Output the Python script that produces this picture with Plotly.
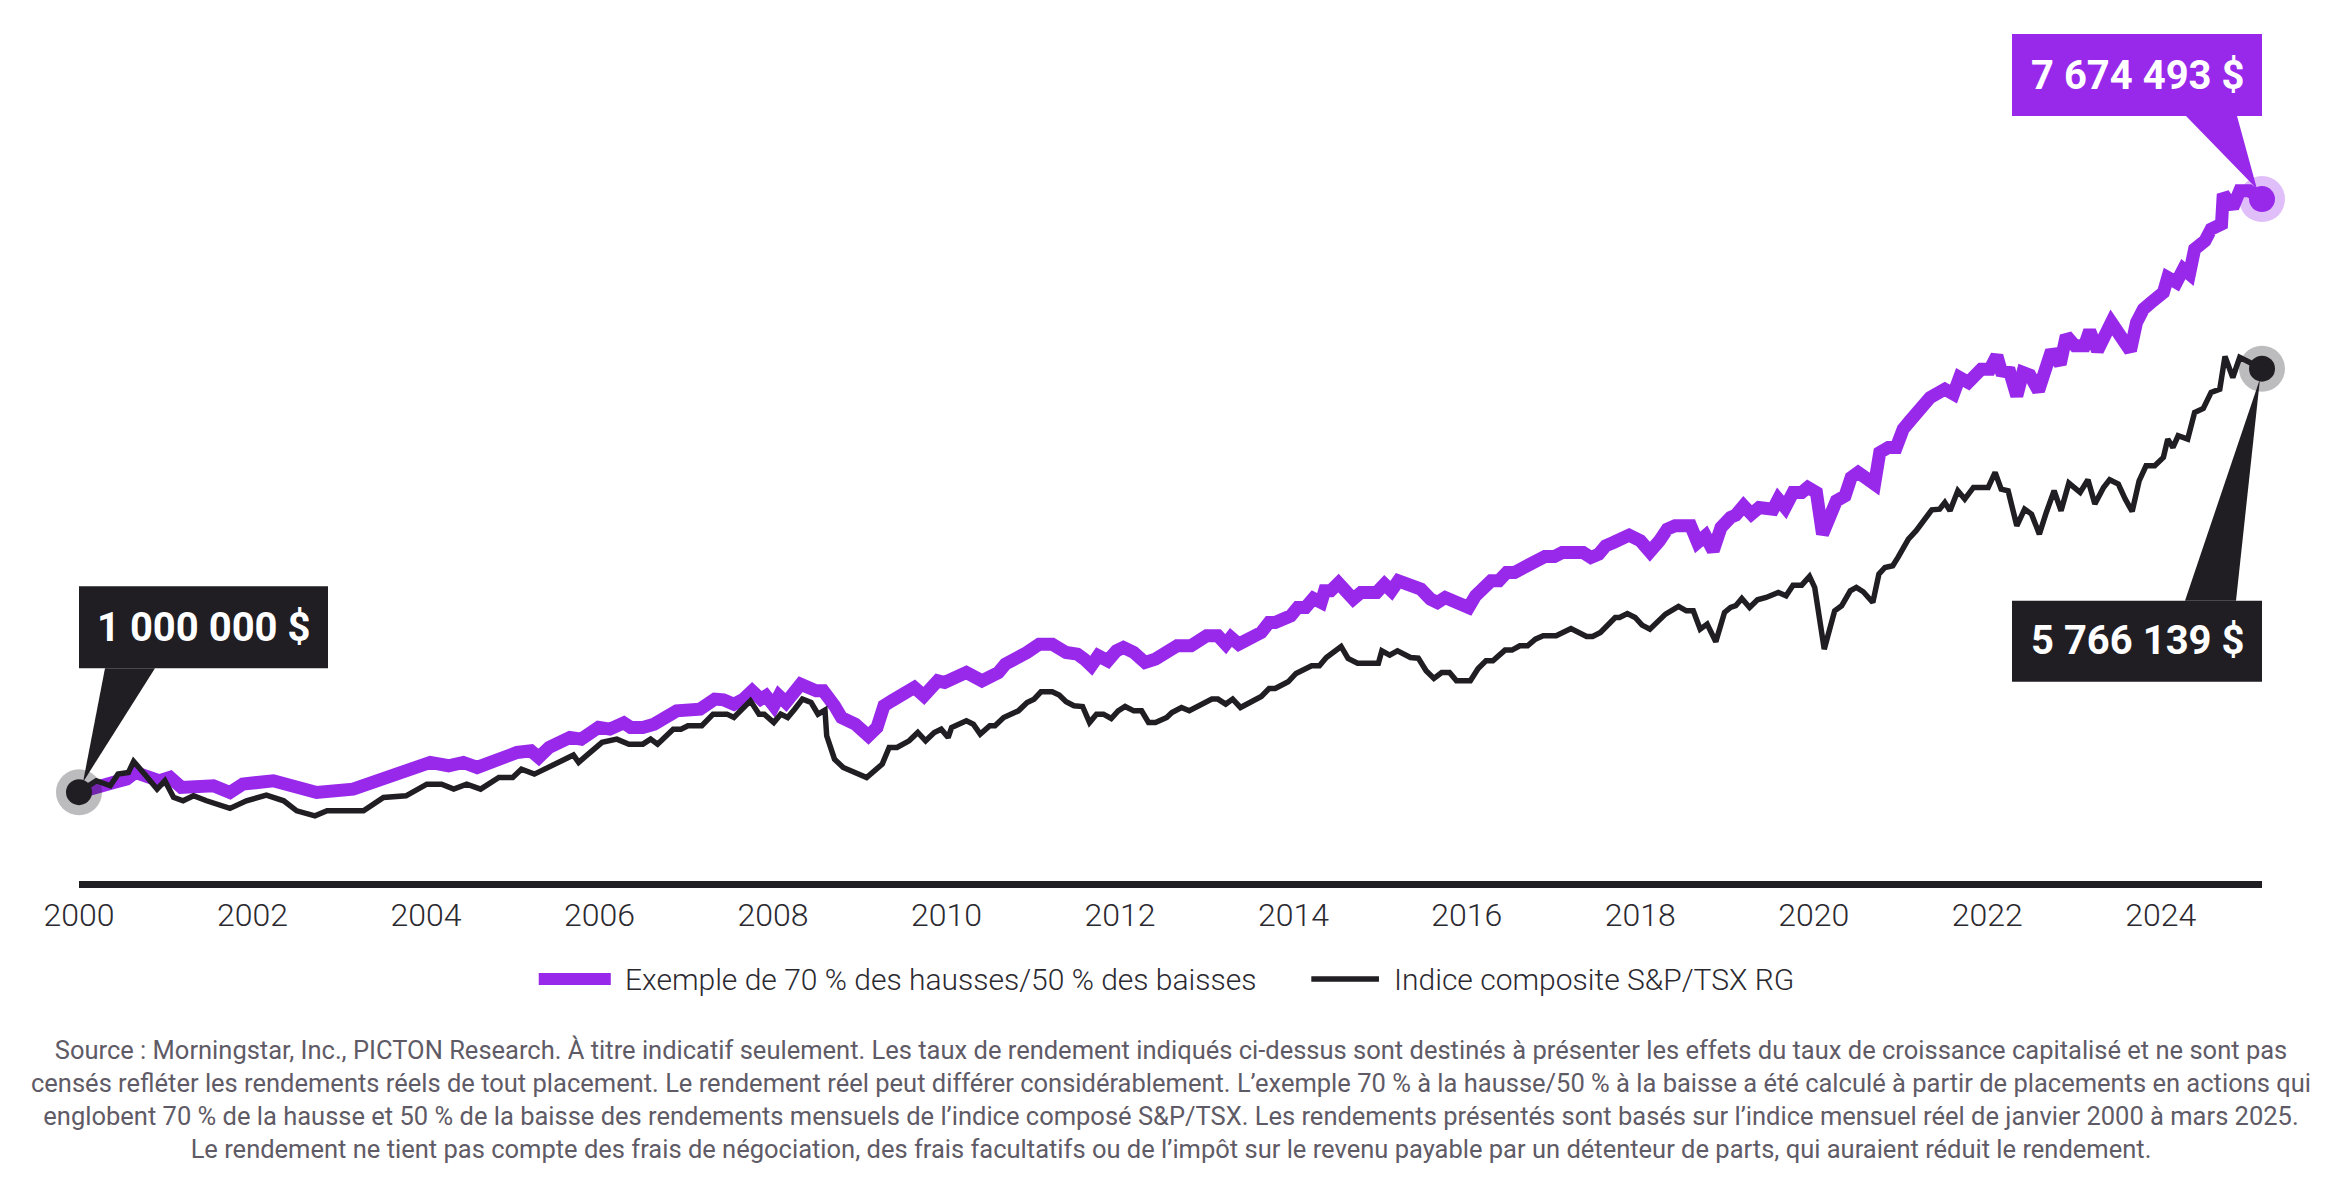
import plotly.graph_objects as go

# ---------------- data (values in millions of $) ----------------
purple_year = [2000.00, 2000.10, 2000.40, 2000.55, 2000.65, 2000.93, 2001.05, 2001.18, 2001.55, 2001.74,
               2001.89, 2002.24, 2002.47, 2002.74, 2003.16, 2003.40, 2003.62, 2003.81, 2004.05, 2004.26,
               2004.43, 2004.59, 2004.80, 2005.05, 2005.21, 2005.30, 2005.42, 2005.66, 2005.79, 2005.99,
               2006.12, 2006.28, 2006.36, 2006.50, 2006.63, 2006.89, 2007.16, 2007.33, 2007.43, 2007.55,
               2007.66, 2007.76, 2007.86, 2007.92, 2008.01, 2008.07, 2008.15, 2008.32, 2008.50, 2008.58,
               2008.71, 2008.79, 2008.95, 2009.10, 2009.20, 2009.28, 2009.37, 2009.49, 2009.63, 2009.74,
               2009.90, 2009.98, 2010.23, 2010.41, 2010.60, 2010.68, 2010.81, 2010.93, 2011.07, 2011.22,
               2011.38, 2011.51, 2011.59, 2011.67, 2011.75, 2011.86, 2011.96, 2012.04, 2012.16, 2012.29,
               2012.41, 2012.58, 2012.66, 2012.82, 2013.00, 2013.13, 2013.22, 2013.28, 2013.37, 2013.63,
               2013.72, 2013.79, 2013.97, 2014.05, 2014.14, 2014.23, 2014.32, 2014.36, 2014.43, 2014.52,
               2014.60, 2014.69, 2014.78, 2014.96, 2015.05, 2015.13, 2015.21, 2015.40, 2015.47, 2015.58,
               2015.66, 2015.75, 2015.97, 2016.02, 2016.10, 2016.19, 2016.28, 2016.37, 2016.46, 2016.55,
               2016.63, 2016.72, 2016.81, 2016.90, 2017.01, 2017.10, 2017.34, 2017.43, 2017.52, 2017.60,
               2017.69, 2017.87, 2018.00, 2018.11, 2018.22, 2018.31, 2018.40, 2018.58, 2018.66, 2018.75,
               2018.84, 2018.93, 2019.04, 2019.10, 2019.19, 2019.28, 2019.37, 2019.53, 2019.59, 2019.67,
               2019.76, 2019.86, 2019.93, 2020.03, 2020.10, 2020.18, 2020.26, 2020.36, 2020.43, 2020.51,
               2020.70, 2020.76, 2020.86, 2020.95, 2021.03, 2021.11, 2021.20, 2021.34, 2021.51, 2021.61,
               2021.68, 2021.78, 2021.93, 2022.03, 2022.11, 2022.16, 2022.26, 2022.34, 2022.41, 2022.49,
               2022.59, 2022.68, 2022.74, 2022.84, 2022.91, 2023.01, 2023.12, 2023.18, 2023.27, 2023.43,
               2023.57, 2023.65, 2023.72, 2023.80, 2023.89, 2024.03, 2024.08, 2024.18, 2024.26, 2024.33,
               2024.39, 2024.51, 2024.58, 2024.70, 2024.72, 2024.83, 2024.91, 2025.02, 2025.1667]
purple_value = [1.000, 1.034, 1.110, 1.147, 1.222, 1.128, 1.166, 1.053, 1.072, 0.997,
                1.091, 1.128, 1.072, 0.997, 1.034, 1.110, 1.184, 1.222, 1.335, 1.297,
                1.335, 1.278, 1.372, 1.447, 1.466, 1.391, 1.504, 1.616, 1.597, 1.729,
                1.710, 1.780, 1.728, 1.728, 1.765, 1.915, 1.934, 2.047, 2.039, 1.990,
                2.047, 2.140, 2.047, 2.084, 1.972, 2.084, 2.009, 2.215, 2.140, 2.140,
                1.972, 1.840, 1.765, 1.634, 1.728, 1.972, 2.028, 2.084, 2.178, 2.084,
                2.253, 2.234, 2.347, 2.253, 2.347, 2.441, 2.497, 2.572, 2.666, 2.666,
                2.572, 2.553, 2.497, 2.422, 2.535, 2.478, 2.591, 2.628, 2.572, 2.459,
                2.497, 2.572, 2.647, 2.647, 2.760, 2.760, 2.666, 2.741, 2.666, 2.797,
                2.910, 2.910, 2.985, 3.079, 3.079, 3.180, 3.135, 3.266, 3.266, 3.353,
                3.248, 3.173, 3.248, 3.248, 3.341, 3.266, 3.379, 3.285, 3.285, 3.173,
                3.135, 3.191, 3.079, 3.079, 3.210, 3.323, 3.379, 3.379, 3.473, 3.473,
                3.518, 3.529, 3.604, 3.653, 3.653, 3.698, 3.698, 3.642, 3.679, 3.773,
                3.810, 3.893, 3.829, 3.705, 3.829, 3.960, 3.998, 3.998, 3.810, 3.885,
                3.717, 3.979, 4.092, 4.118, 4.223, 4.129, 4.204, 4.185, 4.298, 4.204,
                4.373, 4.373, 4.429, 4.373, 3.904, 4.148, 4.279, 4.336, 4.542, 4.598,
                4.467, 4.823, 4.880, 4.880, 5.086, 5.180, 5.273, 5.442, 5.536, 5.480,
                5.667, 5.611, 5.761, 5.761, 5.911, 5.742, 5.724, 5.461, 5.724, 5.694,
                5.517, 5.761, 5.968, 5.817, 6.136, 6.024, 6.024, 6.193, 5.968, 6.286,
                6.118, 5.968, 6.286, 6.437, 6.512, 6.624, 6.793, 6.737, 6.887, 6.831,
                7.112, 7.206, 7.337, 7.393, 7.731, 7.581, 7.769, 7.769, 7.674493]

black_year = [2000.00, 2000.20, 2000.36, 2000.45, 2000.57, 2000.63, 2000.74, 2000.90, 2000.99, 2001.09,
              2001.20, 2001.32, 2001.47, 2001.74, 2001.93, 2002.16, 2002.36, 2002.51, 2002.72, 2002.86,
              2003.28, 2003.51, 2003.77, 2004.01, 2004.18, 2004.32, 2004.47, 2004.63, 2004.84, 2005.00,
              2005.10, 2005.25, 2005.70, 2005.76, 2005.87, 2006.03, 2006.20, 2006.34, 2006.50, 2006.59,
              2006.67, 2006.85, 2006.94, 2007.02, 2007.18, 2007.31, 2007.47, 2007.55, 2007.74, 2007.84,
              2007.90, 2008.01, 2008.09, 2008.17, 2008.25, 2008.34, 2008.44, 2008.52, 2008.60, 2008.62,
              2008.71, 2008.81, 2009.08, 2009.26, 2009.34, 2009.43, 2009.57, 2009.67, 2009.76, 2009.86,
              2009.94, 2010.02, 2010.06, 2010.23, 2010.31, 2010.39, 2010.50, 2010.56, 2010.66, 2010.83,
              2010.93, 2011.01, 2011.09, 2011.22, 2011.30, 2011.38, 2011.47, 2011.57, 2011.65, 2011.73,
              2011.81, 2011.90, 2011.98, 2012.06, 2012.16, 2012.25, 2012.33, 2012.41, 2012.54, 2012.60,
              2012.71, 2012.80, 2013.06, 2013.13, 2013.22, 2013.30, 2013.39, 2013.63, 2013.72, 2013.79,
              2013.94, 2014.03, 2014.21, 2014.30, 2014.38, 2014.47, 2014.55, 2014.63, 2014.74, 2014.98,
              2015.02, 2015.11, 2015.20, 2015.35, 2015.44, 2015.53, 2015.62, 2015.71, 2015.80, 2015.88,
              2016.04, 2016.13, 2016.22, 2016.30, 2016.44, 2016.52, 2016.61, 2016.70, 2016.79, 2016.88,
              2017.03, 2017.20, 2017.38, 2017.45, 2017.54, 2017.71, 2017.76, 2017.85, 2017.94, 2018.02,
              2018.11, 2018.29, 2018.44, 2018.53, 2018.61, 2018.69, 2018.77, 2018.87, 2018.97, 2019.04,
              2019.10, 2019.17, 2019.26, 2019.35, 2019.45, 2019.59, 2019.68, 2019.76, 2019.86, 2019.95,
              2020.01, 2020.12, 2020.24, 2020.32, 2020.42, 2020.49, 2020.57, 2020.68, 2020.75, 2020.82,
              2020.91, 2020.97, 2021.09, 2021.18, 2021.36, 2021.45, 2021.51, 2021.57, 2021.66, 2021.74,
              2021.84, 2022.01, 2022.09, 2022.16, 2022.24, 2022.34, 2022.43, 2022.51, 2022.60, 2022.68,
              2022.77, 2022.85, 2022.94, 2023.07, 2023.16, 2023.24, 2023.34, 2023.41, 2023.51, 2023.59,
              2023.67, 2023.75, 2023.83, 2023.93, 2024.03, 2024.08, 2024.14, 2024.20, 2024.31, 2024.39,
              2024.49, 2024.58, 2024.68, 2024.74, 2024.83, 2024.91, 2025.02, 2025.1667]
black_value = [1.000, 1.128, 1.072, 1.203, 1.222, 1.346, 1.222, 1.034, 1.128, 0.941,
               0.903, 0.959, 0.903, 0.817, 0.903, 0.967, 0.903, 0.790, 0.734, 0.790,
               0.790, 0.941, 0.959, 1.090, 1.090, 1.034, 1.090, 1.034, 1.166, 1.166,
               1.259, 1.203, 1.417, 1.335, 1.428, 1.560, 1.597, 1.540, 1.540, 1.597,
               1.540, 1.709, 1.709, 1.747, 1.747, 1.878, 1.878, 1.840, 2.028, 1.878,
               1.878, 1.784, 1.878, 1.840, 1.934, 2.047, 2.009, 1.878, 1.923, 1.634,
               1.371, 1.277, 1.165, 1.315, 1.503, 1.503, 1.578, 1.672, 1.578, 1.672,
               1.709, 1.615, 1.728, 1.803, 1.765, 1.653, 1.747, 1.747, 1.840, 1.915,
               2.009, 2.047, 2.129, 2.129, 2.092, 2.017, 1.972, 1.964, 1.784, 1.878,
               1.878, 1.829, 1.915, 1.964, 1.915, 1.915, 1.784, 1.784, 1.840, 1.897,
               1.953, 1.916, 2.047, 2.047, 1.991, 2.047, 1.953, 2.077, 2.167, 2.167,
               2.242, 2.336, 2.422, 2.422, 2.516, 2.572, 2.640, 2.505, 2.452, 2.452,
               2.591, 2.543, 2.591, 2.516, 2.508, 2.366, 2.280, 2.347, 2.347, 2.253,
               2.253, 2.392, 2.478, 2.478, 2.599, 2.599, 2.647, 2.647, 2.722, 2.760,
               2.760, 2.842, 2.752, 2.752, 2.797, 2.966, 2.966, 3.011, 2.966, 2.880,
               2.835, 3.004, 3.090, 3.041, 3.041, 2.835, 2.891, 2.692, 3.022, 3.079,
               3.098, 3.180, 3.079, 3.165, 3.191, 3.247, 3.210, 3.330, 3.330, 3.428,
               3.304, 2.609, 3.041, 3.097, 3.266, 3.304, 3.255, 3.135, 3.454, 3.529,
               3.548, 3.642, 3.848, 3.942, 4.178, 4.185, 4.260, 4.167, 4.392, 4.298,
               4.429, 4.429, 4.598, 4.410, 4.392, 3.998, 4.185, 4.129, 3.904, 4.148,
               4.392, 4.167, 4.478, 4.373, 4.516, 4.242, 4.429, 4.516, 4.467, 4.298,
               4.159, 4.504, 4.673, 4.673, 4.767, 4.973, 4.880, 5.011, 4.973, 5.274,
               5.319, 5.499, 5.536, 5.904, 5.667, 5.893, 5.836, 5.766139]

tick_years = [2000, 2002, 2004, 2006, 2008, 2010, 2012, 2014, 2016, 2018, 2020, 2022, 2024]
tick_labels = [str(y) for y in tick_years]

series_names = ["Exemple de 70 % des hausses/50 % des baisses", "Indice composite S&P/TSX RG"]
start_label = "1 000 000 $"
purple_end_label = "7 674 493 $"
black_end_label = "5 766 139 $"
source_text = ("Source : Morningstar, Inc., PICTON Research. À titre indicatif seulement. Les taux de rendement indiqués ci-dessus sont destinés à présenter les effets du taux de croissance capitalisé et ne sont pas<br>"
               "censés refléter les rendements réels de tout placement. Le rendement réel peut différer considérablement. L’exemple 70 % à la hausse/50 % à la baisse a été calculé à partir de placements en actions qui<br>"
               "englobent 70 % de la hausse et 50 % de la baisse des rendements mensuels de l’indice composé S&P/TSX. Les rendements présentés sont basés sur l’indice mensuel réel de janvier 2000 à mars 2025.<br>"
               "Le rendement ne tient pas compte des frais de négociation, des frais facultatifs ou de l’impôt sur le revenu payable par un détenteur de parts, qui auraient réduit le rendement.")

# ---------------- styles ----------------
PURPLE = "#9929EA"
BLACK = "#201E23"
FONT = "Roboto"

fig = go.Figure()

fig.add_trace(go.Scatter(x=purple_year, y=purple_value, mode="lines",
                         line=dict(color=PURPLE, width=13), name=series_names[0],
                         hoverinfo="skip"))
fig.add_trace(go.Scatter(x=black_year, y=black_value, mode="lines",
                         line=dict(color=BLACK, width=5.5), name=series_names[1],
                         hoverinfo="skip"))

# end / start markers (halo + dot)
mk_x = [black_year[0], purple_year[-1], black_year[-1]]
mk_y = [black_value[0], purple_value[-1], black_value[-1]]
halo_cols = ["rgba(32,30,35,0.30)", "rgba(153,41,234,0.30)", "rgba(32,30,35,0.30)"]
dot_cols = [BLACK, PURPLE, BLACK]
fig.add_trace(go.Scatter(x=mk_x, y=mk_y, mode="markers", cliponaxis=False,
                         marker=dict(size=46, color=halo_cols, line=dict(width=0)),
                         hoverinfo="skip"))
fig.add_trace(go.Scatter(x=mk_x, y=mk_y, mode="markers", cliponaxis=False,
                         marker=dict(size=26, color=dot_cols, line=dict(width=0)),
                         hoverinfo="skip"))

shapes = []
annotations = []


def callout(ax, ay, box, tri, text_shift, color, text):
    x0, x1, y0, y1 = box
    common = dict(xref="x", yref="y", xsizemode="pixel", ysizemode="pixel",
                  xanchor=ax, yanchor=ay, layer="above", line=dict(width=0),
                  fillcolor=color)
    shapes.append(dict(type="rect", x0=x0, x1=x1, y0=y0, y1=y1, **common))
    (bx0, by0), (bx1, by1), (px, py) = tri
    shapes.append(dict(type="path", path=f"M{bx0},{by0} L{bx1},{by1} L{px},{py} Z", **common))
    annotations.append(dict(x=ax, y=ay, xref="x", yref="y", text=text, showarrow=False,
                            xshift=text_shift[0], yshift=text_shift[1],
                            xanchor="center", yanchor="middle",
                            font=dict(family=FONT, size=40, color="white", weight="bold")))


callout(black_year[0], black_value[0], (0, 249, 124, 206),
        ((26, 124), (76, 124), (4, 10)), (124, 165), BLACK, start_label)
callout(purple_year[-1], purple_value[-1], (-250, 0, 83, 165),
        ((-76, 83), (-25, 83), (-5, 10)), (-125, 124), PURPLE, purple_end_label)
callout(black_year[-1], black_value[-1], (-250, 0, -232, -313),
        ((-77, -232), (-26, -232), (-2, -10)), (-125, -272), BLACK, black_end_label)

# plot area geometry: bottom at 881 px, 88.85 px per million, top at 0 px
PLOT_H = 881
PX_PER_M = 88.85
Y_TOP = PLOT_H / PX_PER_M

# custom legend (paper coords)
leg_y = (881 - 979) / PLOT_H
shapes.append(dict(type="line", xref="paper", yref="paper", x0=0.2106, x1=0.2436, y0=leg_y, y1=leg_y,
                   line=dict(color=PURPLE, width=12)))
shapes.append(dict(type="line", xref="paper", yref="paper", x0=0.5645, x1=0.5955, y0=leg_y, y1=leg_y,
                   line=dict(color=BLACK, width=5.5)))
annotations.append(dict(x=0.2490, y=leg_y, xref="paper", yref="paper", text=series_names[0],
                        showarrow=False, xanchor="left", yanchor="middle",
                        font=dict(family=FONT, size=30, color="#2B2930", weight=300)))
annotations.append(dict(x=0.6015, y=leg_y, xref="paper", yref="paper", text=series_names[1],
                        showarrow=False, xanchor="left", yanchor="middle",
                        font=dict(family=FONT, size=30, color="#2B2930", weight=300)))

annotations.append(dict(x=0.5, y=(881 - 1099) / PLOT_H, xref="paper", yref="paper", text=source_text,
                        showarrow=False, xanchor="center", yanchor="middle", align="center",
                        font=dict(family=FONT, size=25.5, color="#5F5B66")))

fig.update_layout(
    width=2332, height=1192,
    margin=dict(l=79, r=70, t=0, b=311, pad=0),
    paper_bgcolor="white", plot_bgcolor="white",
    showlegend=False,
    shapes=shapes, annotations=annotations,
    xaxis=dict(range=[2000, 2025.1667], showgrid=False, zeroline=False,
               showline=True, linewidth=7, linecolor=BLACK,
               tickmode="array", tickvals=tick_years, ticktext=tick_labels, ticks="",
               tickfont=dict(family=FONT, size=32, color="#2B2930", weight=300)),
    yaxis=dict(range=[0, Y_TOP], showgrid=False, zeroline=False, showline=False,
               showticklabels=False, ticks=""),
)

fig.write_html("out.html", include_plotlyjs=True, config={"displayModeBar": False},
               post_script="document.body.style.margin='0';document.body.style.overflow='hidden';")
